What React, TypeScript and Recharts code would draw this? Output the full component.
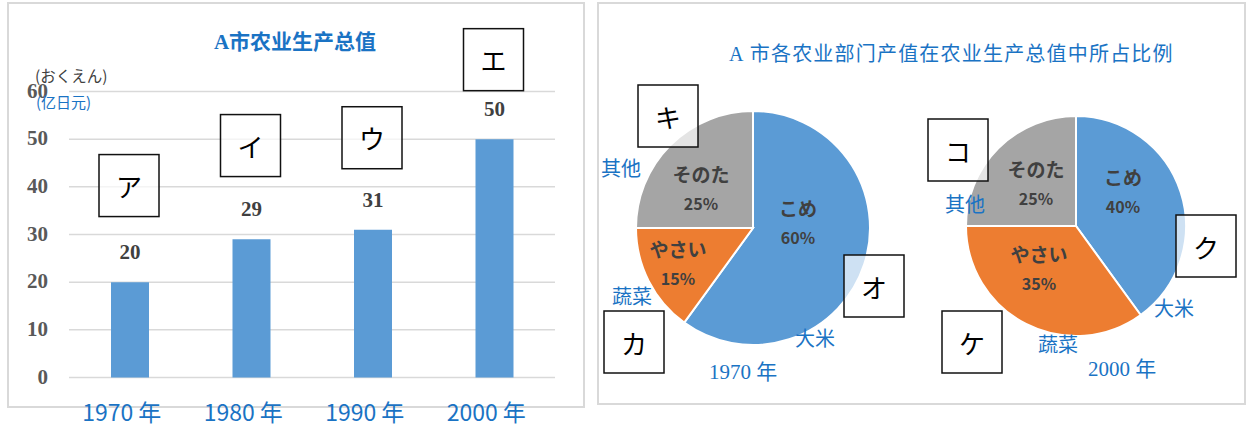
import React from 'react';
import { BarChart, Bar, XAxis, YAxis, CartesianGrid, LabelList, PieChart, Pie, Cell } from 'recharts';

// ---------- data ----------
const years = ['1970 年', '1980 年', '1990 年', '2000 年'];
const totals = [20, 29, 31, 50];
const barBoxes = ['ア', 'イ', 'ウ', 'エ'];
const yTicks = [0, 10, 20, 30, 40, 50, 60];

const sectorJa = ['こめ', 'やさい', 'そのた'];
const sectorZh = ['大米', '蔬菜', '其他'];
const share1970 = [60, 15, 25];
const share2000 = [40, 35, 25];
const boxes1970 = ['オ', 'カ', 'キ'];
const boxes2000 = ['ク', 'ケ', 'コ'];
const pieYears = ['1970 年', '2000 年'];

const barTitle = 'A市农业生产总值';
const pieTitle = 'A 市各农业部门产值在农业生产总值中所占比例';
const unitJa = '(おくえん)';
const unitZh = '(亿日元)';

// ---------- styles ----------
const COLORS = ['#5B9BD5', '#ED7D31', '#A5A5A5'];
const BLUE_TEXT = '#1A73C4';
const SERIF = "'Liberation Serif', 'Noto Sans CJK SC', serif";
const SANS_JP = "'Noto Sans CJK JP', 'Noto Sans', sans-serif";
const SANS_SC = "'Noto Sans CJK SC', 'Noto Sans', sans-serif";

const barData = years.map((y, i) => ({ year: y, value: totals[i], box: barBoxes[i] }));
const pieData = [
  sectorJa.map((n, i) => ({ name: n, zh: sectorZh[i], value: share1970[i], box: boxes1970[i] })),
  sectorJa.map((n, i) => ({ name: n, zh: sectorZh[i], value: share2000[i], box: boxes2000[i] })),
];

// label placement offsets relative to pie centre (layout, not data)
const PIE_LAYOUT = [
  {
    inner: [[45, -6], [-75, 35], [-52, -40]],
    outer: [[62, 109], [-121, 67], [-132, -61]],
    box: [[121, 58], [-119, 114], [-85, -112]],
  },
  {
    inner: [[47, -35], [-37, 42], [-40, -43]],
    outer: [[98, 81], [-18, 117], [-111, -23]],
    box: [[130, 20], [-104, 116], [-118, -76]],
  },
];
const BAR_BOX_RISE = [96.6, 93.7, 92, 79.5];
const PIE_YEAR_POS = [[743, 372], [1122, 369]];

const LetterBox = ({ cx, cy, label }: { cx: number; cy: number; label: string }) => (
  <g>
    <rect x={cx - 30} y={cy - 31} width={60} height={62} fill="#fff" fillOpacity={0.7} stroke="#111" strokeWidth={1.5} />
    <text x={cx} y={cy} textAnchor="middle" dominantBaseline="central" fontSize={26} fontFamily={SANS_JP} fill="#000">
      {label}
    </text>
  </g>
);

const BarValueLabel = (props: any) => {
  const { x, y, width, value, index } = props;
  const cx = Number(x) + Number(width) / 2;
  const top = Number(y);
  return (
    <g>
      <text x={cx} y={top - 30} textAnchor="middle" dominantBaseline="central" fontSize={21} fontWeight="bold"
        fontFamily={SERIF} fill="#404040">
        {value}
      </text>
      <LetterBox cx={cx - 1} cy={top - BAR_BOX_RISE[index]} label={barBoxes[index]} />
    </g>
  );
};

const XTick = (props: any) => {
  const { x, y, payload } = props;
  return (
    <text x={Number(x) - 8} y={Number(y) + 33} textAnchor="middle" dominantBaseline="central" fontSize={23}
      fontFamily={SANS_JP} fill={BLUE_TEXT}>
      {payload.value}
    </text>
  );
};

const YTick = (props: any) => {
  const { x, y, payload } = props;
  return (
    <text x={x} y={Number(y) - 1} textAnchor="end" dominantBaseline="central" fontSize={21} fontWeight="bold"
      fontFamily={SERIF} fill="#595959">
      {payload.value}
    </text>
  );
};

const makePieLabel = (pieIdx: number) => (props: any) => {
  const { cx, cy, index, payload, value } = props;
  const L = PIE_LAYOUT[pieIdx];
  const [ix, iy] = L.inner[index];
  const [ox, oy] = L.outer[index];
  const [bx, by] = L.box[index];
  const item = payload && payload.name ? payload : pieData[pieIdx][index];
  return (
    <g>
      <text x={cx + ix} y={cy + iy - 15} textAnchor="middle" dominantBaseline="central" fontSize={19} fontWeight="bold"
        fontFamily={SANS_JP} fill="#404040">
        {item.name}
      </text>
      <text x={cx + ix} y={cy + iy + 15} textAnchor="middle" dominantBaseline="central" fontSize={16} fontWeight="bold"
        fontFamily={SANS_JP} fill="#404040">
        {`${value}%`}
      </text>
      <text x={cx + ox} y={cy + oy} textAnchor="middle" dominantBaseline="central" fontSize={20} fontFamily={SANS_SC}
        fill={BLUE_TEXT}>
        {item.zh}
      </text>
      <LetterBox cx={cx + bx} cy={cy + by} label={item.box} />
    </g>
  );
};

export default function App() {
  return (
    <div style={{ position: 'absolute', left: 0, top: 0, width: 1249, height: 425, background: '#fff', overflow: 'hidden' }}>
      <svg width={1249} height={425} style={{ position: 'absolute', left: 0, top: 0 }}>
        <rect x={8} y={3} width={576} height={404} fill="#fff" stroke="#D9D9D9" strokeWidth={2} />
        <rect x={598} y={3} width={647} height={401} fill="#fff" stroke="#D9D9D9" strokeWidth={2} />
      </svg>

      <div style={{ position: 'absolute', left: 0, top: 0 }}>
        <BarChart width={600} height={425} data={barData} margin={{ top: 91.5, right: 45, bottom: 0, left: 0 }}>
          <CartesianGrid vertical={false} stroke="#D9D9D9" strokeWidth={1.5} />
          <XAxis dataKey="year" height={47.5} axisLine={false} tickLine={false} tickSize={0} tickMargin={0}
            tick={<XTick />} interval={0} />
          <YAxis width={69} domain={[0, 60]} ticks={yTicks} axisLine={false} tickLine={false} tickSize={0}
            tickMargin={21} tick={<YTick />} interval={0} />
          <Bar dataKey="value" fill={COLORS[0]} barSize={38} isAnimationActive={false}>
            <LabelList dataKey="value" content={<BarValueLabel />} />
          </Bar>
        </BarChart>
      </div>

      <div style={{ position: 'absolute', left: 598, top: 0 }}>
        <PieChart width={651} height={425} margin={{ top: 0, right: 0, bottom: 0, left: 0 }}>
          <Pie data={pieData[0]} dataKey="value" nameKey="name" cx={155} cy={228} outerRadius={117} startAngle={90}
            endAngle={-270} stroke="#fff" strokeWidth={2} labelLine={false} label={makePieLabel(0)}
            isAnimationActive={false}>
            {pieData[0].map((d, i) => <Cell key={d.name} fill={COLORS[i]} />)}
          </Pie>
          <Pie data={pieData[1]} dataKey="value" nameKey="name" cx={478} cy={226} outerRadius={110} startAngle={90}
            endAngle={-270} stroke="#fff" strokeWidth={2} labelLine={false} label={makePieLabel(1)}
            isAnimationActive={false}>
            {pieData[1].map((d, i) => <Cell key={d.name} fill={COLORS[i]} />)}
          </Pie>
        </PieChart>
      </div>

      <svg width={1249} height={425} style={{ position: 'absolute', left: 0, top: 0, pointerEvents: 'none' }}>
        <text x={295} y={42} textAnchor="middle" dominantBaseline="central" fontSize={21} fontWeight="bold"
          fontFamily={SERIF} fill={BLUE_TEXT}>{barTitle}</text>
        <text x={35} y={75} dominantBaseline="central" fontSize={15.5} fontFamily={SANS_JP} fill="#404040">{unitJa}</text>
        <text x={36} y={101.5} dominantBaseline="central" fontSize={15} fontFamily={SANS_SC} fill={BLUE_TEXT}>{unitZh}</text>
        <text x={729} y={54} dominantBaseline="central" fontSize={20} letterSpacing={1.2} fontFamily={SERIF}
          fill={BLUE_TEXT}>{pieTitle}</text>
        {pieYears.map((t, i) => (
          <text key={t} x={PIE_YEAR_POS[i][0]} y={PIE_YEAR_POS[i][1]} textAnchor="middle" dominantBaseline="central"
            fontSize={21} fontFamily={SERIF} fill={BLUE_TEXT}>{t}</text>
        ))}
      </svg>
    </div>
  );
}
